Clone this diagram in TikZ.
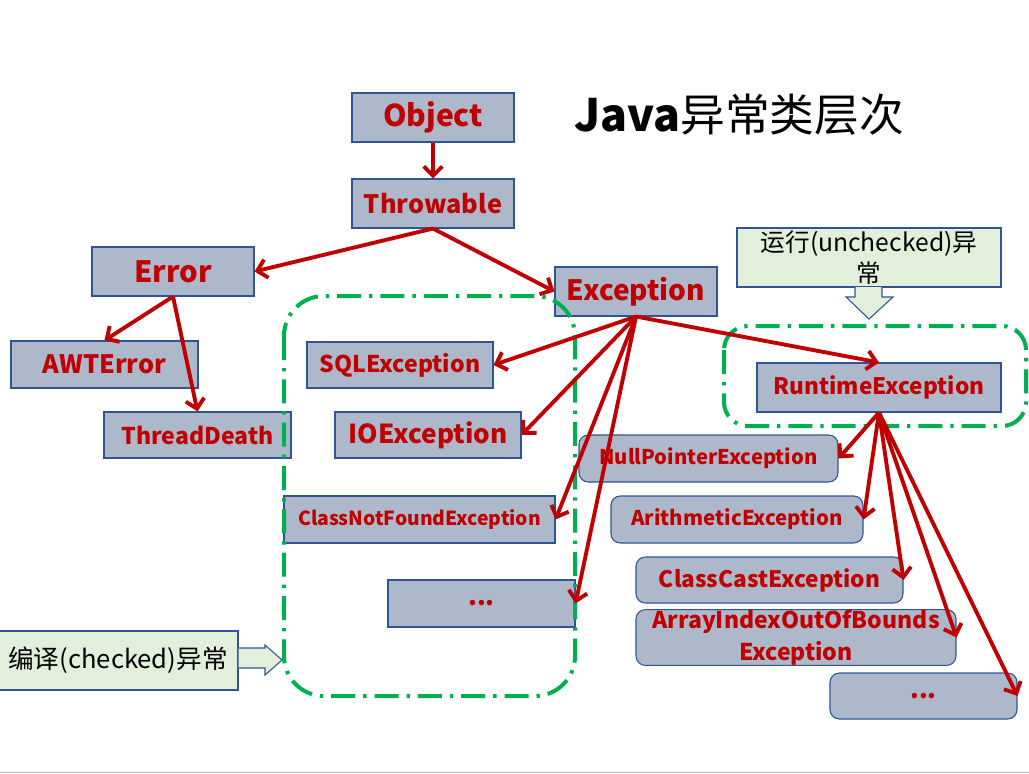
\documentclass[tikz,border=0pt]{standalone}
\usepackage{fontspec}
\setmainfont{Noto Sans CJK SC}
\usetikzlibrary{arrows.meta}
\definecolor{dred}{HTML}{C00000}
\definecolor{boxfill}{HTML}{ADB9CA}
\definecolor{boxline}{HTML}{2F5597}
\definecolor{gfill}{HTML}{E2EFDA}
\definecolor{ggreen}{HTML}{00B050}
\newcommand{\fs}[1]{\fontsize{#1}{#1}\selectfont}
\begin{document}
\begin{tikzpicture}[x=0.75pt,y=-0.75pt,
  box/.style={draw=boxline, line width=0.8pt, fill=boxfill, text=dred, inner sep=0pt, align=center},
  rbox/.style={box, rounded corners=7pt},
  arr/.style={draw=dred, line width=2.9pt, -{Straight Barb[length=7pt,width=14pt]}},
  grp/.style={draw=ggreen, line width=3pt, dash pattern=on 18pt off 6pt on 2.5pt off 6pt},
  note/.style={draw=boxline, line width=0.8pt, fill=gfill, text=black, inner sep=0pt, align=center},
  blk/.style={draw=boxline, line width=0.8pt, fill=gfill}]

\useasboundingbox (0,0) rectangle (1029,774);
\fill[white] (0,0) rectangle (1029,774);

% title
\node[anchor=west, inner sep=0pt, font=\fs{33.5}] (title) at (574,115) {\textbf{Java}异常类层次};

% left tree
\node[box, minimum width=121.5pt, minimum height=36.75pt, font=\bfseries\fs{22.5}] (obj) at (433,117.5) {Object};
\node[box, minimum width=121.5pt, minimum height=36.75pt, font=\bfseries\fs{19}] (thr) at (433,203.5) {Throwable};
\node[box, minimum width=121.5pt, minimum height=36.75pt, font=\bfseries\fs{22}] (err) at (173,271.5) {Error};
\node[box, minimum width=140.25pt, minimum height=35.25pt, font=\bfseries\fs{19}] (awt) at (104.5,364.5) {AWTError};
\node[box, minimum width=140.25pt, minimum height=34.5pt, font=\bfseries\fs{17.3}] (td) at (197.5,435) {ThreadDeath};
\node[box, minimum width=121.5pt, minimum height=36.75pt, font=\bfseries\fs{21}] (exc) at (636,291.5) {Exception};
\node[box, minimum width=139.5pt, minimum height=34.5pt, font=\bfseries\fs{17.3}] (sql) at (400,365) {SQLException};
\node[box, minimum width=139.5pt, minimum height=34.5pt, font=\bfseries\fs{19.6}] (io) at (428,435) {IOException};
\node[box, minimum width=203.25pt, minimum height=35.25pt, font=\bfseries\fs{14.5}] (cnf) at (419.5,519.5) {ClassNotFoundException};
\node[box, minimum width=140.25pt, minimum height=35.25pt, font=\bfseries\fs{19}] (dl) at (481.5,603.5) {...};

% right tree
\node[box, minimum width=183pt, minimum height=36.75pt, font=\bfseries\fs{17}] (rt) at (879,387.5) {RuntimeException};
\node[rbox, minimum width=194.25pt, minimum height=35.25pt, font=\bfseries\fs{15.2}] (np) at (708.5,458.5) {NullPointerException};
\node[rbox, minimum width=189pt, minimum height=35.25pt, font=\bfseries\fs{15.3}] (ar) at (737,519.5) {ArithmeticException};
\node[rbox, minimum width=200.25pt, minimum height=34.5pt, font=\bfseries\fs{17}] (cc) at (769.5,580) {ClassCastException};
\node[rbox, minimum width=240pt, minimum height=35.25pt, font=\bfseries\fs{17.3}] (ai) at (796,637.5) {ArrayIndexOutOfBounds\\[5pt]Exception};
\node[rbox, minimum width=140.25pt, minimum height=34.5pt, font=\bfseries\fs{19}] (dr) at (923.5,696) {...};

% notes
\node[note, minimum width=198pt, minimum height=44.25pt, font=\fs{18.5}] (unc) at (869,257.5) {运行(unchecked)异\\[3pt]常};
\node[note, minimum width=180pt, minimum height=44.25pt, font=\fs{19.2}] (chk) at (118,660.5) {编译(checked)异常};

% block arrows
\path[blk] (855,287) -- (855,297) -- (846,297) -- (869,319) -- (893,297) -- (882,297) -- (882,287);
\path[blk] (chk.east |- 0,648) -- (265,648) -- (265,645) -- (282,660) -- (265,675) -- (265,668) -- (chk.east |- 0,668);

% groups
\draw[grp, rounded corners=30pt] (284,296) rectangle (575,696);
\draw[grp, rounded corners=18pt] (724,326) rectangle (1026,426);

% connectors
\draw[arr] (obj.south) -- (thr.north);
\draw[arr] (thr.south) -- (err.east);
\draw[arr] (thr.south) -- (exc.west);
\draw[arr] (err.south) -- (awt.north);
\draw[arr] (err.south) -- (td.north);
\draw[arr] (exc.south) -- (sql.east);
\draw[arr] (exc.south) -- (io.east);
\draw[arr] (exc.south) -- (cnf.east);
\draw[arr] (exc.south) -- (dl.east);
\draw[arr] (exc.south) -- (rt.north);
\draw[arr] (rt.south) -- (np.east);
\draw[arr] (rt.south) -- (ar.east);
\draw[arr] (rt.south) -- (cc.east);
\draw[arr] (rt.south) -- (ai.east);
\draw[arr] (rt.south) -- (dr.east);

% slide bottom edge
\draw[black!28, line width=1.2pt] (0,772.5) -- (1029,772.5);
\end{tikzpicture}
\end{document}
